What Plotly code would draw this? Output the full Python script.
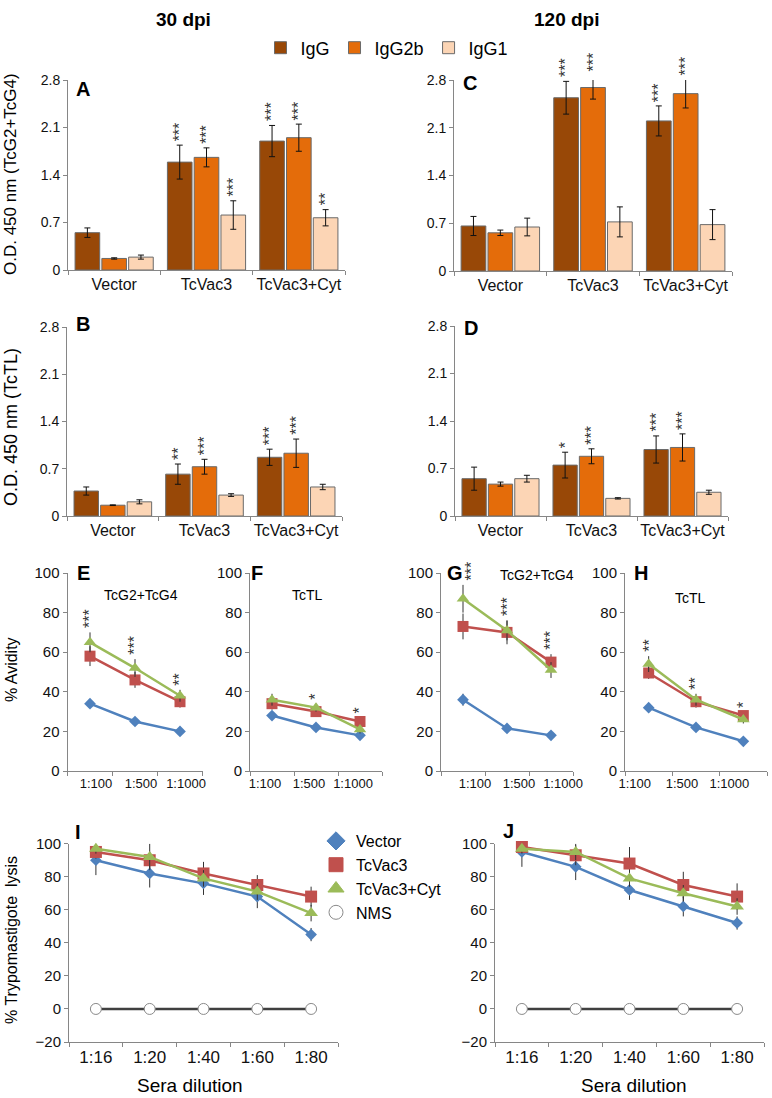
import plotly.graph_objects as go

W, H = 772, 1098

# ── Data ──────────────────────────────────────────────────────────────────────
groups = ["Vector", "TcVac3", "TcVac3+Cyt"]
isotypes = ["IgG", "IgG2b", "IgG1"]

# rows = IgG, IgG2b, IgG1 ; columns = groups
A_MEAN = [[0.55, 1.59, 1.90], [0.17, 1.66, 1.95], [0.19, 0.81, 0.77]]
A_ERR = [[0.07, 0.25, 0.23], [0.01, 0.14, 0.20], [0.03, 0.21, 0.12]]
A_STARS = [["", "***", "***"], ["", "***", "***"], ["", "***", "**"]]

C_MEAN = [[0.66, 2.54, 2.20], [0.56, 2.69, 2.60], [0.645, 0.72, 0.68]]
C_ERR = [[0.14, 0.24, 0.22], [0.04, 0.17, 0.21], [0.13, 0.22, 0.22]]
C_STARS = [["", "***", "***"], ["", "***", "***"], ["", "", ""]]

B_MEAN = [[0.37, 0.62, 0.87], [0.16, 0.73, 0.93], [0.21, 0.31, 0.43]]
B_ERR = [[0.06, 0.15, 0.12], [0.005, 0.11, 0.21], [0.03, 0.02, 0.04]]
B_STARS = [["", "**", "***"], ["", "***", "***"], ["", "", ""]]

D_MEAN = [[0.55, 0.75, 0.98], [0.47, 0.88, 1.01], [0.55, 0.26, 0.35]]
D_ERR = [[0.17, 0.19, 0.20], [0.03, 0.11, 0.20], [0.05, 0.01, 0.03]]
D_STARS = [["", "*", "***"], ["", "***", "***"], ["", "", ""]]

avidity_dil = ["1:100", "1:500", "1:1000"]
series = ["Vector", "TcVac3", "TcVac3+Cyt"]

# rows = Vector, TcVac3, TcVac3+Cyt
E_MEAN = [[34, 25, 20], [58, 46, 35], [65, 52, 38]]
E_ERR = [[2, 1.5, 1], [5, 4, 3], [5, 4.5, 3]]
E_STARS = ["***", "***", "**"]

F_MEAN = [[28, 22, 18], [34, 30, 25], [36, 32, 21]]
F_ERR = [[1.5, 1, 1], [3, 2, 2], [3, 2, 2]]
F_STARS = ["", "*", "*"]

G_MEAN = [[36, 21.5, 18], [73, 70, 55], [87, 71, 51]]
G_ERR = [[3, 1.5, 1], [6.5, 6, 4], [7, 5, 4]]
G_STARS = ["***", "***", "***"]

H_MEAN = [[32, 22, 15], [49.5, 35, 28], [54, 36, 26]]
H_ERR = [[1.5, 1, 1], [3, 3, 2], [4, 3, 2]]
H_STARS = ["**", "**", "*"]

lysis_dil = ["1:16", "1:20", "1:40", "1:60", "1:80"]
I_MEAN = [[90, 82, 76, 68, 45], [95, 90, 82, 75, 68], [97, 92, 79, 71, 58]]
I_ERR = [[9, 8.5, 7, 7, 4], [4, 5, 7, 6, 6], [3, 8, 5, 5, 5]]
J_MEAN = [[95, 86, 72, 62, 52], [98, 93, 88, 75, 68], [97, 95, 79, 70, 62]]
J_ERR = [[9, 8, 6, 6, 4], [3, 6, 10, 8, 8], [3, 5, 5, 5, 5]]
NMS = [0, 0, 0, 0, 0]

# ── Styling ───────────────────────────────────────────────────────────────────
FONT = "Arial, Liberation Sans, sans-serif"
AXIS = "#868686"
BAR_COLORS = ["#984807", "#E46C0A", "#FCD5B5"]
LINE_COLORS = ["#4F81BD", "#C0504D", "#9BBB59"]
SYMBOLS = ["diamond", "square", "triangle-up"]
SIZES_AV = [9, 11, 11]
SIZES_LY = [9, 12, 12]

BARGAP = 0.13
SLOT = (1 - BARGAP) / 3

layout = dict(
    width=W, height=H,
    margin=dict(l=0, r=0, t=0, b=0, autoexpand=False),
    paper_bgcolor="white", plot_bgcolor="white",
    font=dict(family=FONT, color="#000", size=14),
    barmode="group", bargap=BARGAP, bargroupgap=0.08,
    showlegend=True,
)
annotations = []
traces = []


def sfx(n):
    return "" if n == 1 else str(n)


def add_axes(n, xpx, ypx, yrange, dtick, ticktext, xfont, yfont, shift=0):
    s = sfx(n)
    layout["xaxis" + s] = dict(
        domain=[xpx[0] / W, xpx[1] / W], anchor="y" + s,
        range=[-0.5, len(ticktext) - 0.5],
        tickmode="array", tickvals=list(range(len(ticktext))), ticktext=ticktext,
        ticks="", showline=True, linecolor=AXIS, linewidth=1,
        showgrid=False, zeroline=False, fixedrange=True, ticklabelshift=shift,
        tickfont=dict(size=xfont, color="#111"),
        minor=dict(tickmode="linear", tick0=-0.5, dtick=1, ticks="outside",
                   ticklen=4, tickcolor=AXIS, showgrid=False),
    )
    layout["yaxis" + s] = dict(
        domain=[1 - ypx[1] / H, 1 - ypx[0] / H], anchor="x" + s,
        range=yrange, tick0=0, dtick=dtick,
        ticks="outside", ticklen=4, tickcolor=AXIS,
        showline=True, linecolor=AXIS, linewidth=1,
        showgrid=False, zeroline=False, fixedrange=True,
        tickfont=dict(size=yfont, color="#111"),
    )


def pann(text, x, y, size=14, bold=False, angle=0):
    annotations.append(dict(
        text=f"<b>{text}</b>" if bold else text,
        x=x / W, y=1 - y / H, xref="paper", yref="paper",
        xanchor="center", yanchor="middle",
        showarrow=False, textangle=angle,
        font=dict(size=size, family=FONT, color="#000")))


def star(text, n, x, yval, yrange, xshift=0):
    # y placed in axis-domain units so labels above the range are still drawn
    s = sfx(n)
    yd = (yval - yrange[0]) / (yrange[1] - yrange[0])
    annotations.append(dict(
        text=text, x=x, y=yd, xref="x" + s, yref=f"y{s} domain",
        showarrow=False, textangle=-90, xanchor="center", yanchor="bottom",
        yshift=2, xshift=xshift,
        font=dict(size=16, family=FONT, color="#333")))


# ── Bar panels (A, C, B, D) ───────────────────────────────────────────────────
bar_panels = [
    (1, (68, 345), (80, 270), A_MEAN, A_ERR, A_STARS),
    (2, (454, 732), (80, 271), C_MEAN, C_ERR, C_STARS),
    (3, (67, 342), (327, 516), B_MEAN, B_ERR, B_STARS),
    (4, (455, 728), (326, 516), D_MEAN, D_ERR, D_STARS),
]
for n, xpx, ypx, means, errs, stars in bar_panels:
    s = sfx(n)
    add_axes(n, xpx, ypx, [0, 2.8], 0.7, groups, 16, 14)
    for k, iso in enumerate(isotypes):
        traces.append(go.Bar(
            x=list(range(len(groups))), y=means[k], name=iso,
            legendgroup=iso, showlegend=(n == 1), legend="legend",
            marker=dict(color=BAR_COLORS[k], line=dict(color="#6a6a6a", width=1)),
            error_y=dict(type="data", array=errs[k], color="#111", thickness=1, width=3),
            xaxis="x" + s, yaxis="y" + s,
        ))
        for i, st in enumerate(stars[k]):
            if st:
                star(st, n, i + (k - 1) * SLOT, means[k][i] + errs[k][i], [0, 2.8])

# ── Avidity panels (E, F, G, H) ───────────────────────────────────────────────
av_panels = [
    (5, (67.5, 202.5), (573, 771), E_MEAN, E_ERR, E_STARS, 6),
    (6, (250, 382), (573, 771), F_MEAN, F_ERR, F_STARS, -7),
    (7, (441, 573), (573, 771), G_MEAN, G_ERR, G_STARS, 12),
    (8, (625, 767), (573, 771), H_MEAN, H_ERR, H_STARS, -14),
]
for n, xpx, ypx, means, errs, stars, shift in av_panels:
    s = sfx(n)
    add_axes(n, xpx, ypx, [0, 100], 20, avidity_dil, 13, 15, shift)
    for k, name in enumerate(series):
        traces.append(go.Scatter(
            x=list(range(len(avidity_dil))), y=means[k], mode="lines+markers",
            name=name, showlegend=False,
            line=dict(color=LINE_COLORS[k], width=2.5),
            marker=dict(symbol=SYMBOLS[k], size=SIZES_AV[k], color=LINE_COLORS[k]),
            error_y=dict(type="data", array=errs[k], color="#333", thickness=1, width=0),
            xaxis="x" + s, yaxis="y" + s, cliponaxis=False,
        ))
    for i, st in enumerate(stars):
        if st:
            top = max(means[k][i] + errs[k][i] for k in (1, 2))
            # the first G label sits beside the panel letter, nudged right
            star(st, n, i, top, [0, 100], xshift=8 if (n == 7 and i == 0) else 0)

# ── Lysis panels (I, J) ───────────────────────────────────────────────────────
ly_panels = [
    (9, (69, 338), (843.7, 1042), I_MEAN, I_ERR),
    (10, (495, 764), (843.7, 1042), J_MEAN, J_ERR),
]
for n, xpx, ypx, means, errs in ly_panels:
    s = sfx(n)
    add_axes(n, xpx, ypx, [-20, 100], 20, lysis_dil, 17, 15)
    traces.append(go.Scatter(
        x=list(range(len(lysis_dil))), y=NMS, mode="lines+markers", name="NMS",
        showlegend=False, line=dict(color="#404040", width=2.5),
        marker=dict(symbol="circle", size=11, color="white", line=dict(color="#8a8a8a", width=1)),
        xaxis="x" + s, yaxis="y" + s, cliponaxis=False,
    ))
    for k, name in enumerate(series):
        traces.append(go.Scatter(
            x=list(range(len(lysis_dil))), y=means[k], mode="lines+markers",
            name=name, showlegend=False,
            line=dict(color=LINE_COLORS[k], width=2.5),
            marker=dict(symbol=SYMBOLS[k], size=SIZES_LY[k], color=LINE_COLORS[k]),
            error_y=dict(type="data", array=errs[k], color="#333", thickness=1, width=0),
            xaxis="x" + s, yaxis="y" + s, cliponaxis=False,
        ))

# legend entries for the line panels (markers only)
for name, color, sym in zip(series + ["NMS"], LINE_COLORS + ["white"], SYMBOLS + ["circle"]):
    traces.append(go.Scatter(
        x=[None], y=[None], mode="markers", name=name, legend="legend2",
        marker=dict(symbol=sym, size=14, color=color,
                    line=dict(color="#8a8a8a" if name == "NMS" else color, width=1)),
        xaxis="x9", yaxis="y9",
    ))

layout["legend"] = dict(
    orientation="h", x=387 / W, xanchor="center", y=1 - 48 / H, yanchor="middle",
    font=dict(size=18, family=FONT, color="#000"), bgcolor="rgba(0,0,0,0)",
    itemwidth=30, tracegroupgap=0, traceorder="normal",
)
layout["legend2"] = dict(
    orientation="v", x=316 / W, xanchor="left", y=1 - 824 / H, yanchor="top",
    font=dict(size=16, family=FONT, color="#000"), bgcolor="rgba(0,0,0,0)",
    itemwidth=30, tracegroupgap=0,
)

# ── Text ──────────────────────────────────────────────────────────────────────
pann("30 dpi", 183, 20, size=19, bold=True)
pann("120 dpi", 566, 20, size=19, bold=True)

for letter, x, y in [("A", 83, 89), ("C", 470, 83), ("B", 83, 324), ("D", 471, 328),
                     ("E", 83, 573), ("F", 257, 573), ("G", 455, 573), ("H", 641, 573),
                     ("I", 78, 832), ("J", 508, 831)]:
    pann(letter, x, y, size=20, bold=True)

pann("TcG2+TcG4", 141, 595, size=14)
pann("TcTL", 307, 595, size=14)
pann("TcG2+TcG4", 537, 575, size=14)
pann("TcTL", 690, 598, size=14)

pann("O.D. 450 nm (TcG2+TcG4)", 11, 174, size=17, angle=-90)
pann("O.D. 450 nm (TcTL)", 11, 427, size=18, angle=-90)
pann("% Avidity", 11, 670, size=16, angle=-90)
pann("% Trypomastigote  lysis", 11, 940, size=16, angle=-90)
pann("Sera dilution", 190, 1085, size=19)
pann("Sera dilution", 634, 1085, size=19)

layout["annotations"] = annotations

fig = go.Figure(data=traces, layout=layout)
# the page's default 8px body margin would shift the whole figure
fig.write_html("out.html", config={"displayModeBar": False},
               post_script="document.body.style.margin = '0';")
